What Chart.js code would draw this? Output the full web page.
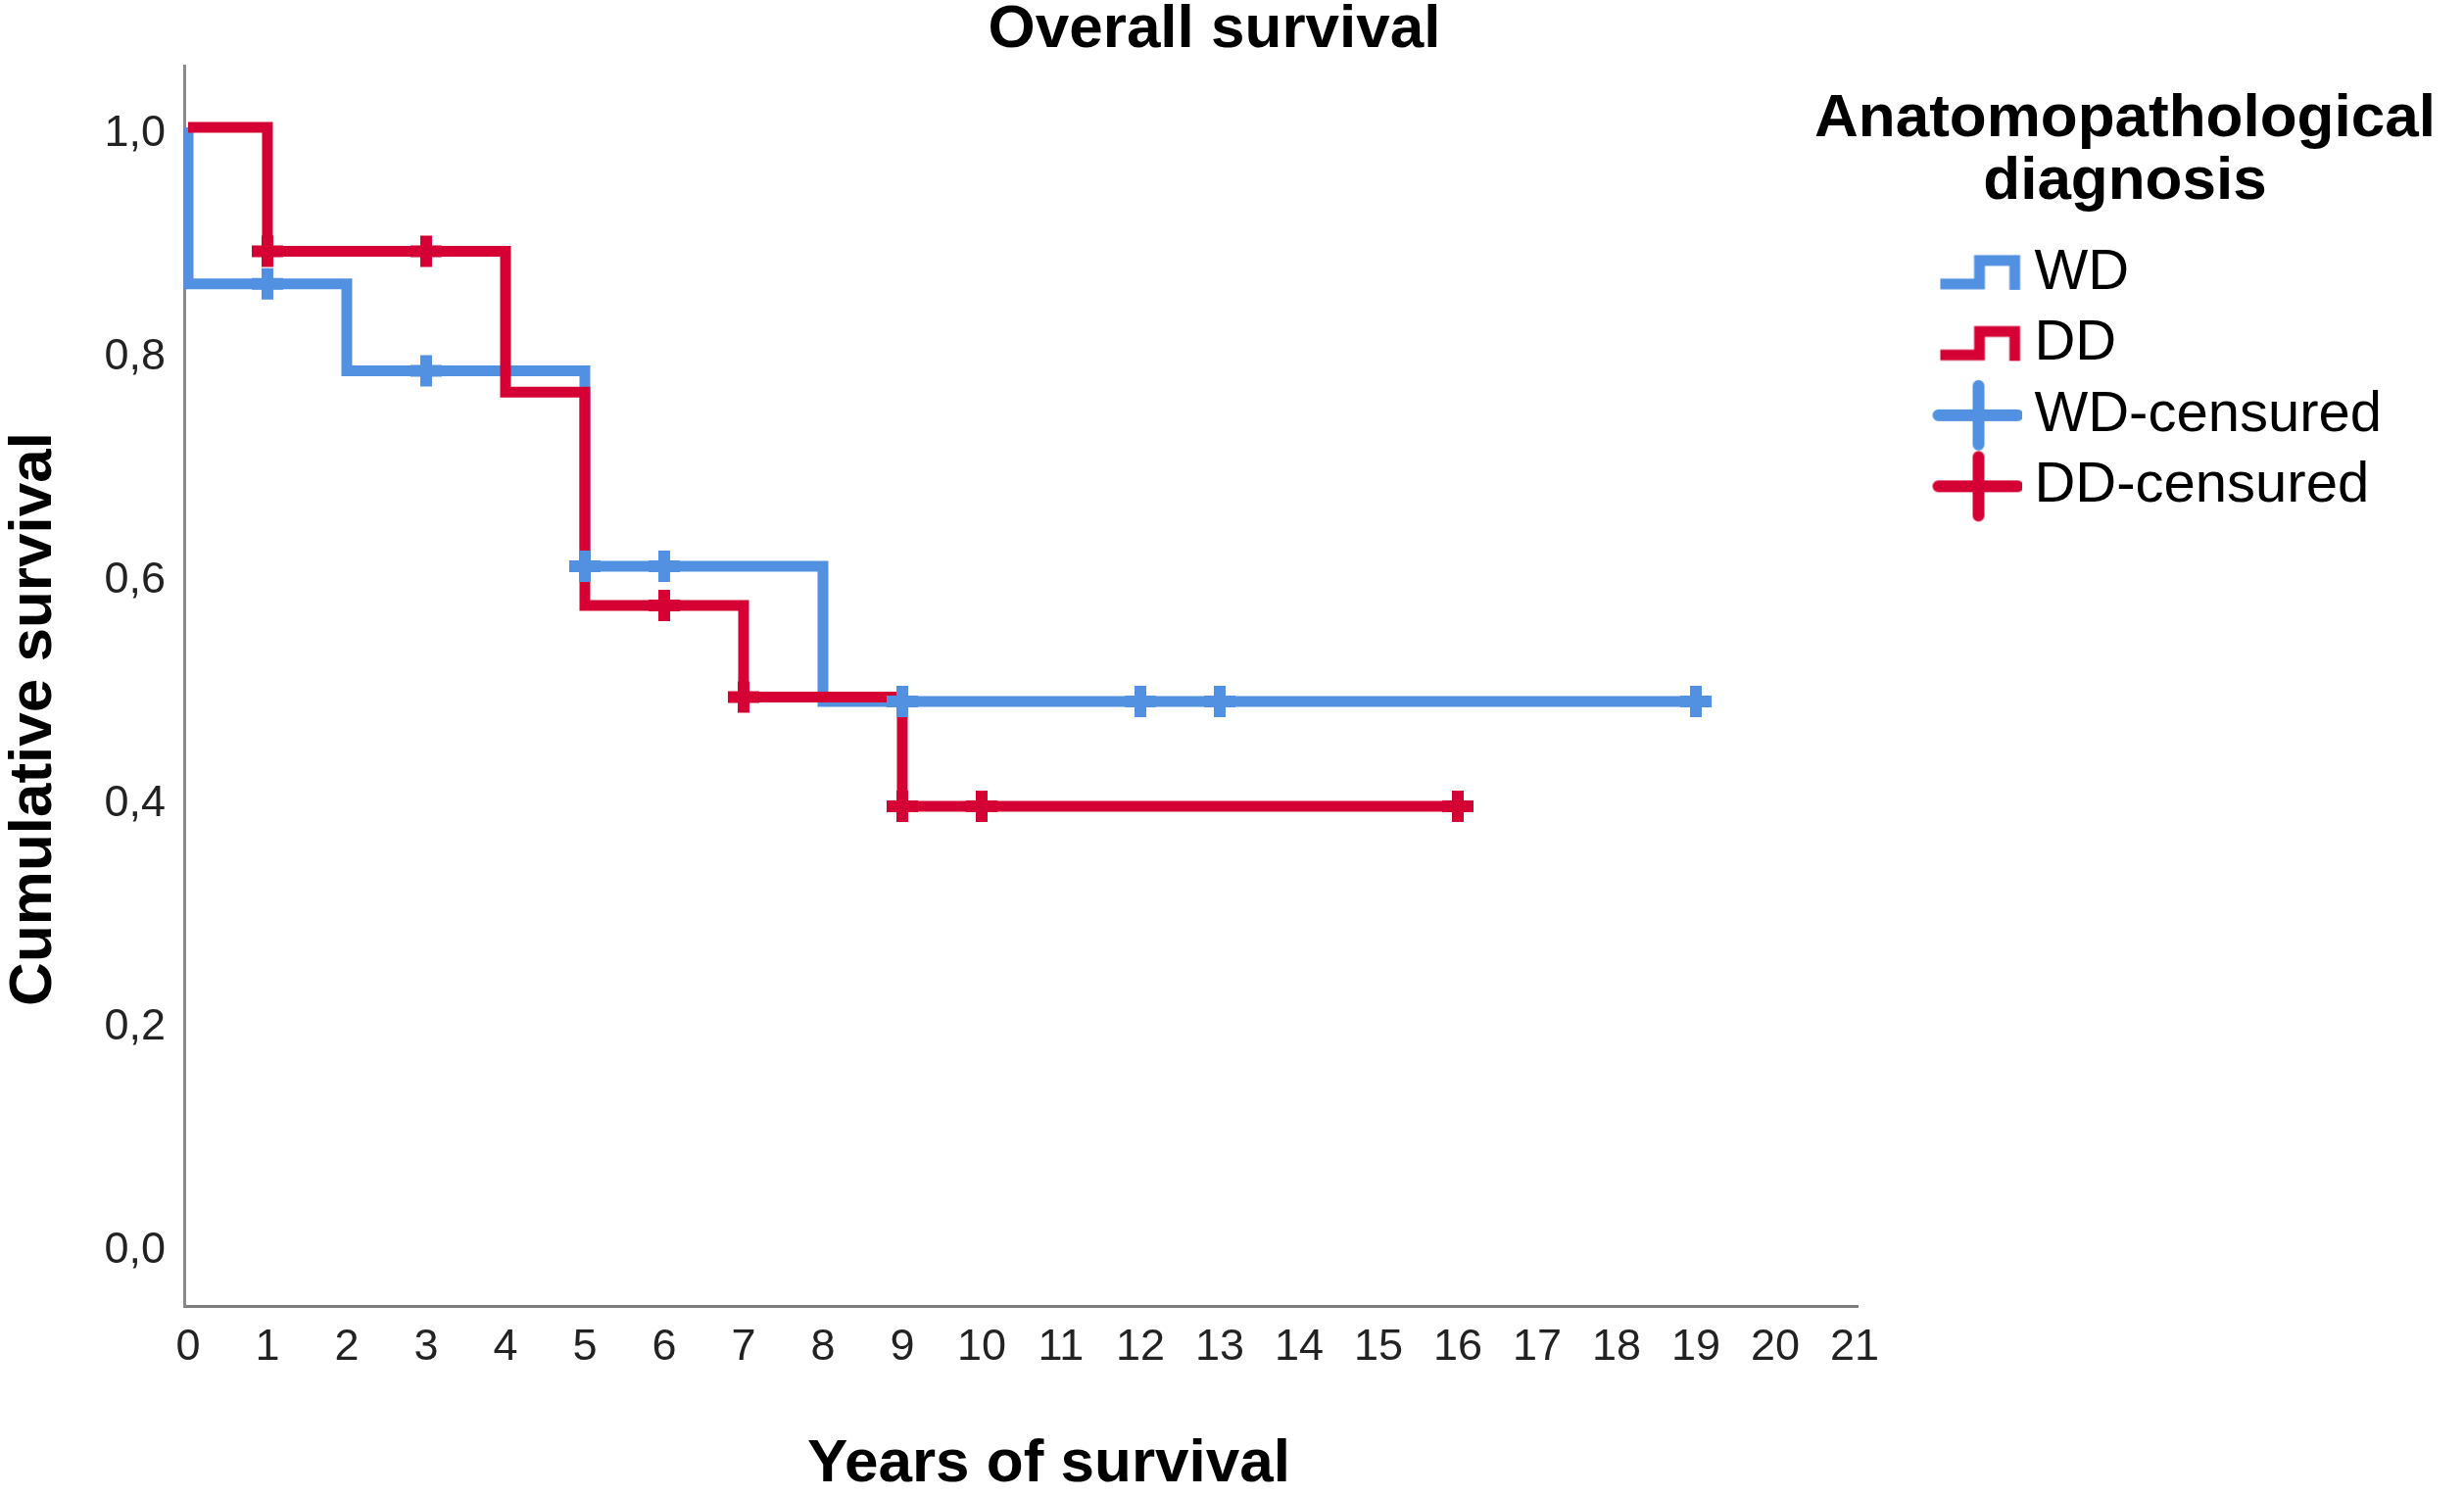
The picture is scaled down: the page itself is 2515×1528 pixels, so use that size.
<!DOCTYPE html>
<html>
<head>
<meta charset="utf-8">
<script src="https://cdn.jsdelivr.net/npm/chart.js@4/dist/chart.umd.min.js"></script>
<style>html,body{margin:0;padding:0;background:#fff;overflow:hidden}</style>
</head>
<body>
<canvas id="c" width="2515" height="1528" style="width:2515px;height:1528px;display:block"></canvas>
<script>
// ---- data ----
const chartTitle = 'Overall survival';
const xAxisTitle = 'Years of survival';
const yAxisTitle = 'Cumulative survival';
const legendTitle = ['Anatomopathological', 'diagnosis'];
const seriesNames = ['WD', 'DD', 'WD-censured', 'DD-censured'];

const xTicks = [0, 1, 2, 3, 4, 5, 6, 7, 8, 9, 10, 11, 12, 13, 14, 15, 16, 17, 18, 19, 20, 21];
const xTickLabels = ['0','1','2','3','4','5','6','7','8','9','10','11','12','13','14','15','16','17','18','19','20','21'];
const yTicks = [0, 0.2, 0.4, 0.6, 0.8, 1.0];
const yTickLabels = ['0,0', '0,2', '0,4', '0,6', '0,8', '1,0'];

// step curves (time of event, survival after event)
const wdTimes    = [0, 0, 2, 5, 8, 19];
const wdSurvival = [1.0, 0.860, 0.782, 0.607, 0.486, 0.486];
const ddTimes    = [0, 1, 4, 5, 7, 9, 16];
const ddSurvival = [1.0, 0.889, 0.763, 0.572, 0.490, 0.392, 0.392];

// censored observations
const wdCensTimes    = [1, 3, 5, 6, 9, 12, 13, 19];
const wdCensSurvival = [0.860, 0.782, 0.607, 0.607, 0.486, 0.486, 0.486, 0.486];
const ddCensTimes    = [1, 3, 6, 7, 9, 10, 16];
const ddCensSurvival = [0.889, 0.889, 0.572, 0.490, 0.392, 0.392, 0.392];

// ---- styling ----
const BLUE = '#5291E2';
const RED = '#D50033';
const FONT = "'Liberation Sans', Arial, Helvetica, sans-serif";

Chart.defaults.font.family = FONT;

function toPoints(xs, ys) { return xs.map((x, i) => ({ x: x, y: ys[i] })); }

function makeIcon(kind, color) {
  const c = document.createElement('canvas');
  c.width = 170; c.height = 76;
  const g = c.getContext('2d');
  const cx = 125, cy = 38;
  g.strokeStyle = color;
  if (kind === 'step') {
    g.lineWidth = 11;
    g.lineJoin = 'miter';
    g.beginPath();
    g.moveTo(cx - 39, cy + 11);
    g.lineTo(cx + 1, cy + 11);
    g.lineTo(cx + 1, cy - 13);
    g.lineTo(cx + 37, cy - 13);
    g.lineTo(cx + 37, cy + 17);
    g.stroke();
  } else {
    g.lineWidth = 12;
    g.lineCap = 'round';
    g.beginPath();
    g.moveTo(cx - 41, cy); g.lineTo(cx + 40, cy);
    g.moveTo(cx, cy - 30); g.lineTo(cx, cy + 30);
    g.stroke();
  }
  return c;
}
const legendIcons = [makeIcon('step', BLUE), makeIcon('step', RED), makeIcon('plus', BLUE), makeIcon('plus', RED)];
const legendColors = [BLUE, RED, BLUE, RED];

// axis titles placed as in the reference (slightly off the axis centre)
const axisTitles = {
  id: 'axisTitles',
  afterLayout(chart) {
    // let the legend title overhang its box like in the reference (no clipping)
    const lg = chart.legend;
    if (lg && !lg.__noClip && typeof lg._draw === 'function') {
      lg.__noClip = true;
      lg.draw = function () { if (this.options.display) { this._draw(); } };
    }
  },
  afterDraw(chart) {
    const ctx = chart.ctx, a = chart.chartArea;
    ctx.save();
    ctx.fillStyle = '#000';
    ctx.font = 'bold 62px ' + FONT;
    ctx.textAlign = 'center';
    ctx.textBaseline = 'middle';
    ctx.fillText(xAxisTitle, (a.left + a.right) / 2 + 28, chart.height - 33);
    ctx.translate(35, (a.top + a.bottom) / 2 + 34);
    ctx.rotate(-Math.PI / 2);
    ctx.fillText(yAxisTitle, 0, 0);
    ctx.restore();
  }
};

new Chart(document.getElementById('c'), {
  type: 'line',
  data: {
    datasets: [
      { label: seriesNames[0], data: toPoints(wdTimes, wdSurvival), stepped: 'before',
        borderColor: BLUE, backgroundColor: BLUE, borderWidth: 11, pointRadius: 0, fill: false,
        borderJoinStyle: 'miter', order: 3 },
      { label: seriesNames[1], data: toPoints(ddTimes, ddSurvival), stepped: 'before',
        borderColor: RED, backgroundColor: RED, borderWidth: 11, pointRadius: 0, fill: false,
        borderJoinStyle: 'miter', order: 2 },
      { label: seriesNames[2], data: toPoints(wdCensTimes, wdCensSurvival), showLine: false,
        pointStyle: 'cross', pointRadius: 16, pointBorderWidth: 12, pointBorderColor: BLUE,
        pointBackgroundColor: BLUE, borderColor: BLUE, order: 1 },
      { label: seriesNames[3], data: toPoints(ddCensTimes, ddCensSurvival), showLine: false,
        pointStyle: 'cross', pointRadius: 16, pointBorderWidth: 12, pointBorderColor: RED,
        pointBackgroundColor: RED, borderColor: RED, order: 0 }
    ]
  },
  options: {
    responsive: false,
    devicePixelRatio: 1,
    animation: false,
    events: [],
    layout: { padding: { left: 38, right: 74, top: 0, bottom: 0 } },
    scales: {
      x: {
        type: 'linear', min: -0.049, max: 21.049,
        afterBuildTicks: s => { s.ticks = xTicks.map(v => ({ value: v })); },
        afterFit: s => { s.height = 195; },
        grid: { display: false, drawTicks: false },
        border: { display: true, color: '#7d7d7d', width: 3 },
        ticks: { padding: 16, autoSkip: false, maxRotation: 0, color: '#222',
                 font: { size: 45 },
                 callback: (v, i) => xTickLabels[i] }
      },
      y: {
        type: 'linear', min: -0.0553, max: 1.0553,
        afterBuildTicks: s => { s.ticks = yTicks.map(v => ({ value: v })); },
        afterFit: s => { s.width = 150; },
        grid: { display: false, drawTicks: false },
        border: { display: true, color: '#8a8a8a', width: 3 },
        ticks: { padding: 19, labelOffset: 7, color: '#222',
                 font: { size: 45 },
                 callback: (v, i) => yTickLabels[i] }
      }
    },
    plugins: {
      tooltip: { enabled: false },
      title: { display: true, text: chartTitle, color: '#000',
               font: { size: 62, weight: 'bold', lineHeight: 1.0 },
               padding: { top: 0, bottom: 5 } },
      legend: {
        display: true, position: 'right', align: 'start', fullSize: false,
        title: { display: true, text: legendTitle, position: 'center', color: '#000',
                 font: { size: 62, weight: 'bold', lineHeight: 1.03 },
                 padding: { top: 24, bottom: 80.5 } },
        labels: {
          usePointStyle: true, pointStyleWidth: 136, padding: 14.5, color: '#000',
          font: { size: 58 },
          generateLabels: () => seriesNames.map((name, i) => ({
            text: name, pointStyle: legendIcons[i], fillStyle: legendColors[i],
            strokeStyle: legendColors[i], lineWidth: 0, hidden: false, datasetIndex: i, fontColor: '#000'
          }))
        }
      }
    }
  },
  plugins: [axisTitles]
});
</script>
</body>
</html>
